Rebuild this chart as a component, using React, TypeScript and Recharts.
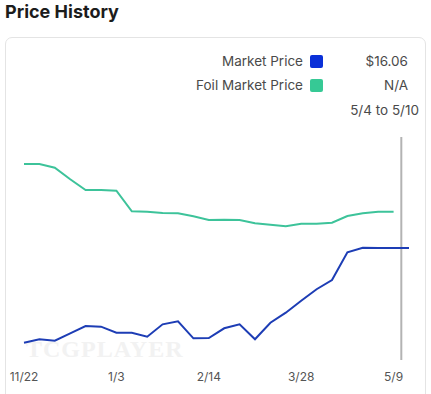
import React from "react";
import { LineChart, Line, XAxis, YAxis, ReferenceLine } from "recharts";

const weeks = [
  "11/22", "11/29", "12/6", "12/13", "12/20", "12/27", "1/3", "1/10", "1/17",
  "1/24", "1/31", "2/7", "2/14", "2/21", "2/28", "3/7", "3/14", "3/21", "3/28",
  "4/4", "4/11", "4/18", "4/25", "5/2", "5/9", "5/16",
];

const marketPrice = [
  2.48, 2.97, 2.77, 3.83, 4.88, 4.78, 3.92, 3.9, 3.34, 5.12, 5.55, 3.11, 3.16,
  4.55, 5.12, 2.97, 5.35, 6.79, 8.51, 10.15, 11.48, 15.46, 16.1, 16.06, 16.06,
  16.06,
];

const foilPrice: (number | null)[] = [
  28.13, 28.13, 27.6, 25.93, 24.4, 24.4, 24.3, 21.34, 21.28, 21.09, 21.05, 20.62,
  20.09, 20.13, 20.09, 19.62, 19.42, 19.19, 19.56, 19.56, 19.7, 20.66, 21.05,
  21.28, 21.28, null,
];

const tickWeeks = [0, 6, 12, 18, 24];
const hoverWeek = 24.5;

const data = weeks.map((label, i) => ({
  week: i,
  label,
  market: marketPrice[i],
  foil: foilPrice[i],
}));

const font = "Inter, 'Noto Sans', sans-serif";
const BLUE_LINE = "#1d3db5";
const BLUE_KEY = "#0a30d8";
const GREEN_LINE = "#3dc39a";
const GREEN_KEY = "#36c995";

const Swatch = ({ color }: { color: string }) => (
  <span
    style={{
      display: "inline-block",
      width: 13,
      height: 13,
      borderRadius: 2,
      background: color,
      margin: "0 0 0 7px",
    }}
  />
);

const rowStyle: React.CSSProperties = {
  position: "absolute",
  right: 0,
  display: "flex",
  alignItems: "center",
  fontSize: 13.5,
  color: "#4a4a4a",
  whiteSpace: "nowrap",
};

export default function App() {
  return (
    <div
      style={{
        position: "absolute",
        left: 0,
        top: 0,
        width: 431,
        height: 394,
        background: "#fff",
        overflow: "hidden",
        fontFamily: font,
      }}
    >
      <div
        style={{
          position: "absolute",
          left: 5,
          top: 0,
          fontSize: 18,
          fontWeight: 700,
          color: "#1c1c1c",
          lineHeight: "24px",
        }}
      >
        Price History
      </div>

      {/* card */}
      <div
        style={{
          position: "absolute",
          left: 5,
          top: 37,
          width: 419,
          height: 380,
          border: "1px solid #e4e4e4",
          borderRadius: 7,
        }}
      />

      {/* watermark */}
      <div
        style={{
          position: "absolute",
          left: 26,
          top: 336,
          fontFamily: "'Liberation Serif', serif",
          fontWeight: 700,
          fontSize: 24,
          color: "#f2f2f2",
          letterSpacing: 1,
        }}
      >
        TCGPLAYER
      </div>

      {/* legend */}
      <div style={{ position: "absolute", left: 0, top: 0, width: 431 }}>
        <div style={{ ...rowStyle, top: 53, right: 108 }}>
          Market Price <Swatch color={BLUE_KEY} />
        </div>
        <div style={{ ...rowStyle, top: 53, right: 23 }}>$16.06</div>
        <div style={{ ...rowStyle, top: 77, right: 108 }}>
          Foil Market Price <Swatch color={GREEN_KEY} />
        </div>
        <div style={{ ...rowStyle, top: 77, right: 23 }}>N/A</div>
        <div style={{ ...rowStyle, top: 102, right: 12 }}>5/4 to 5/10</div>
      </div>

      <div style={{ position: "absolute", left: 0, top: 0 }}>
        <LineChart
          width={431}
          height={394}
          data={data}
          margin={{ top: 137, right: 22, left: 24, bottom: 4 }}
        >
          <XAxis
            dataKey="week"
            type="number"
            domain={[0, 25]}
            ticks={tickWeeks}
            tickFormatter={(i: number) => weeks[i]}
            axisLine={false}
            tickLine={false}
            tickMargin={6}
            height={30}
            tick={{ fill: "#555", fontSize: 12, fontFamily: font }}
          />
          <YAxis hide domain={[0, 32]} />
          <ReferenceLine x={hoverWeek} stroke="#b3b3b3" strokeWidth={2} />
          <Line
            type="linear"
            dataKey="foil"
            stroke={GREEN_LINE}
            strokeWidth={2}
            dot={false}
            isAnimationActive={false}
          />
          <Line
            type="linear"
            dataKey="market"
            stroke={BLUE_LINE}
            strokeWidth={2}
            dot={false}
            isAnimationActive={false}
          />
        </LineChart>
      </div>
    </div>
  );
}
